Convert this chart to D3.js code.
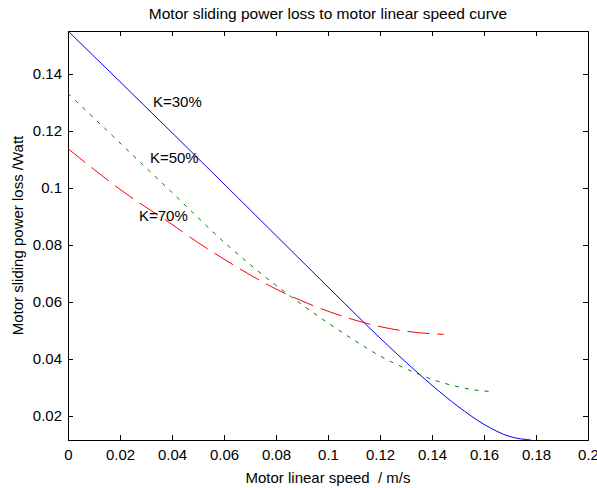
<!DOCTYPE html>
<html>
<head>
<meta charset="utf-8">
<script src="https://cdn.jsdelivr.net/npm/d3@7"></script>
<style>
  body { margin: 0; background: #fff; }
  text { font-family: "Liberation Sans", Arial, sans-serif; fill: #000; }
</style>
</head>
<body>
<script>
// data

const speed30 = [0, 0.02, 0.04, 0.06, 0.08, 0.10, 0.11, 0.12, 0.13, 0.14, 0.15, 0.16, 0.17, 0.178];
const loss30 = [0.1551, 0.1373, 0.1194, 0.1014, 0.0833, 0.0652, 0.0562, 0.0473, 0.0388, 0.0307, 0.0233, 0.0170, 0.0127, 0.0115];

const speed50 = [0, 0.01, 0.02, 0.04, 0.06, 0.08, 0.09, 0.10, 0.11, 0.12, 0.13, 0.14, 0.15, 0.16, 0.164];
const loss50 = [0.1332, 0.1245, 0.1158, 0.0984, 0.0810, 0.0658, 0.0590, 0.0526, 0.0466, 0.0410, 0.0365, 0.0328, 0.0302, 0.0287, 0.0285];

const speed70 = [0, 0.01, 0.02, 0.03, 0.04, 0.05, 0.06, 0.07, 0.08, 0.09, 0.10, 0.11, 0.12, 0.13, 0.14, 0.1445];
const loss70 = [0.1138, 0.1065, 0.0995, 0.0932, 0.0872, 0.0808, 0.0750, 0.0695, 0.0645, 0.0603, 0.0567, 0.0537, 0.0513, 0.0497, 0.0488, 0.0486];

const seriesNames = ["K=30%", "K=50%", "K=70%"];
// where the K labels sit, in data units
const labelSpeed = [0.0327, 0.0315, 0.0273];
const labelLoss = [0.1302, 0.1105, 0.0901];

const xTicks = [0, 0.02, 0.04, 0.06, 0.08, 0.1, 0.12, 0.14, 0.16, 0.18, 0.2];
const yTicks = [0.02, 0.04, 0.06, 0.08, 0.1, 0.12, 0.14];

const titleText = "Motor sliding power loss to motor linear speed curve";
const xLabel = "Motor linear speed  / m/s";
const yLabel = "Motor sliding power loss /Watt";

// dimensions

const dms = {
    width: 597,
    height: 488,
    margins: { top: 31, right: 9, bottom: 48, left: 68 }
};
dms.innerWidth = dms.width - dms.margins.left - dms.margins.right;
dms.innerHeight = dms.height - dms.margins.top - dms.margins.bottom;

const svg = d3.select("body")
    .append("svg")
        .attr("width", dms.width)
        .attr("height", dms.height);

const g = svg.append("g")
    .attr("transform", `translate(${dms.margins.left},${dms.margins.top})`);

// scales

const series = [
    { name: seriesNames[0], x: speed30, y: loss30, color: "#0000ff", dash: null },
    { name: seriesNames[1], x: speed50, y: loss50, color: "#008000", dash: "4,6" },
    { name: seriesNames[2], x: speed70, y: loss70, color: "#ff0000", dash: "22,8" }
];

const allLoss = [].concat(loss30, loss50, loss70);

const xScale = d3.scaleLinear()
    .domain([0, 0.2])
    .range([0, dms.innerWidth]);

const yScale = d3.scaleLinear()
    .domain(d3.extent(allLoss))
    .range([dms.innerHeight, 0]);

const fmt = d => String(+d.toFixed(2));

// axes, ticks pointing inward like matlab

const xAxis = g.append("g")
    .attr("transform", `translate(0,${dms.innerHeight})`)
    .call(d3.axisBottom(xScale).tickValues(xTicks).tickFormat(fmt)
        .tickSizeInner(-5).tickSizeOuter(0).tickPadding(9.5));

const yAxis = g.append("g")
    .call(d3.axisLeft(yScale).tickValues(yTicks).tickFormat(fmt)
        .tickSizeInner(-5).tickSizeOuter(0).tickPadding(6));

g.append("g")
    .call(d3.axisTop(xScale).tickValues(xTicks).tickFormat("")
        .tickSizeInner(-5).tickSizeOuter(0));

g.append("g")
    .attr("transform", `translate(${dms.innerWidth},0)`)
    .call(d3.axisRight(yScale).tickValues(yTicks).tickFormat("")
        .tickSizeInner(-5).tickSizeOuter(0));

g.selectAll(".domain, .tick line")
    .attr("stroke", "#000")
    .attr("shape-rendering", "crispEdges");

g.selectAll(".tick text")
    .attr("fill", "#000")
    .style("font-size", "15px")
    .style("font-family", "'Liberation Sans', Arial, sans-serif");

// lines

const line = d3.line()
    .x(d => xScale(d[0]))
    .y(d => yScale(d[1]))
    .curve(d3.curveMonotoneX);

g.selectAll("path.series")
    .data(series)
    .enter()
    .append("path")
        .attr("class", "series")
        .attr("d", s => line(s.x.map((v, i) => [v, s.y[i]])))
        .attr("fill", "none")
        .attr("stroke", s => s.color)
        .attr("stroke-width", 1)
        .attr("stroke-dasharray", s => s.dash);

// K labels

g.selectAll("text.klabel")
    .data(seriesNames)
    .enter()
    .append("text")
        .attr("class", "klabel")
        .attr("x", (d, i) => xScale(labelSpeed[i]))
        .attr("y", (d, i) => yScale(labelLoss[i]))
        .attr("dy", "0.35em")
        .style("font-size", "15px")
        .text(d => d);

// title and axis labels

svg.append("text")
    .attr("x", dms.margins.left + dms.innerWidth / 2)
    .attr("y", 19)
    .attr("text-anchor", "middle")
    .style("font-size", "15.5px")
    .text(titleText);

svg.append("text")
    .attr("x", dms.margins.left + dms.innerWidth / 2)
    .attr("y", 483)
    .attr("text-anchor", "middle")
    .style("font-size", "15px")
    .style("white-space", "pre")
    .text(xLabel);

svg.append("text")
    .attr("transform", `translate(23,${dms.margins.top + dms.innerHeight / 2}) rotate(-90)`)
    .attr("text-anchor", "middle")
    .style("font-size", "15px")
    .text(yLabel);
</script>
</body>
</html>
